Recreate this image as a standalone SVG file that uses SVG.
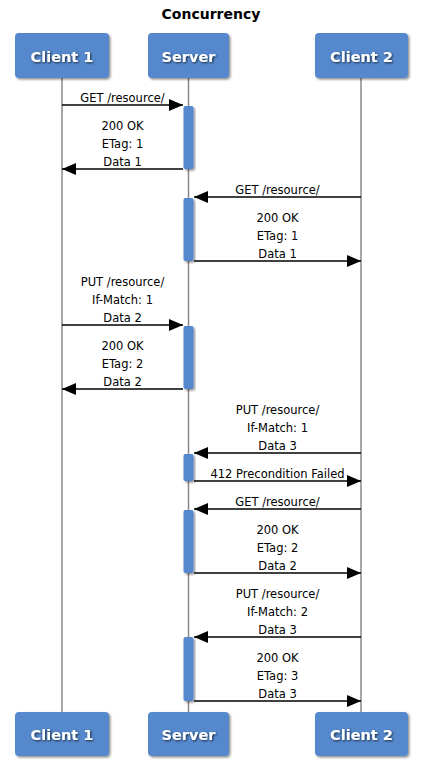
<svg xmlns="http://www.w3.org/2000/svg" width="421" height="761" viewBox="0 0 421 761">
<defs>
<filter id="sh" x="-10%" y="-10%" width="130%" height="130%"><feDropShadow dx="1.5" dy="1.5" stdDeviation="1.2" flood-color="#000" flood-opacity="0.45"/></filter>
<filter id="ts" x="-10%" y="-20%" width="130%" height="150%"><feDropShadow dx="1" dy="1" stdDeviation="1" flood-color="#000" flood-opacity="0.7"/></filter>
<marker id="ah" markerUnits="userSpaceOnUse" markerWidth="14" markerHeight="12" refX="14" refY="6" orient="auto"><path d="M0,0 L14,6 L0,12 z" fill="#000"/></marker>
</defs>
<style>
.box{fill:#5588cc;filter:url(#sh)}
.bt{font-family:"DejaVu Sans",sans-serif;font-weight:bold;font-size:14.5px;fill:#fff;text-anchor:middle;filter:url(#ts)}
.life{stroke:#888;stroke-width:1.5}
.act{fill:#5588cc;filter:url(#sh)}
.msg{stroke:#000;stroke-width:1.3;fill:none;marker-end:url(#ah)}
.t{font-family:"DejaVu Sans",sans-serif;font-size:11.5px;fill:#000;text-anchor:middle}
.title{font-family:"DejaVu Sans",sans-serif;font-weight:bold;font-size:14px;fill:#000;text-anchor:middle}
</style>
<rect width="421" height="761" fill="#fff"/>
<text class="title" x="211" y="19">Concurrency</text>
<g id="lifelines">
<line class="life" x1="62" y1="78" x2="62" y2="712"/>
<line class="life" x1="188.5" y1="78" x2="188.5" y2="712"/>
<line class="life" x1="361" y1="78" x2="361" y2="712"/>
</g>
<g id="client1">
<rect class="box" x="15" y="33" width="94" height="45" rx="4"/>
<text class="bt" x="62" y="62">Client 1</text>
<rect class="box" x="15" y="712" width="94" height="44" rx="4"/>
<text class="bt" x="62" y="740">Client 1</text>
</g>
<g id="server">
<rect class="box" x="148" y="33" width="81" height="45" rx="4"/>
<text class="bt" x="188.5" y="62">Server</text>
<rect class="box" x="148" y="712" width="81" height="44" rx="4"/>
<text class="bt" x="188.5" y="740">Server</text>
</g>
<g id="client2">
<rect class="box" x="315" y="33" width="93" height="45" rx="4"/>
<text class="bt" x="361.5" y="62">Client 2</text>
<rect class="box" x="315" y="712" width="93" height="44" rx="4"/>
<text class="bt" x="361.5" y="740">Client 2</text>
</g>
<g id="activations">
<rect class="act" x="183.5" y="106" width="10" height="63" rx="2"/>
<rect class="act" x="183.5" y="198" width="10" height="63" rx="2"/>
<rect class="act" x="183.5" y="326" width="10" height="63" rx="2"/>
<rect class="act" x="183.5" y="454" width="10" height="27" rx="2"/>
<rect class="act" x="183.5" y="510" width="10" height="63" rx="2"/>
<rect class="act" x="183.5" y="637" width="10" height="64" rx="2"/>
</g>
<g id="connectors">
<line class="msg" x1="62" y1="105" x2="183" y2="105"/>
<line class="msg" x1="183" y1="169" x2="62" y2="169"/>
<line class="msg" x1="361" y1="197" x2="194" y2="197"/>
<line class="msg" x1="194" y1="261" x2="361" y2="261"/>
<line class="msg" x1="62" y1="325" x2="183" y2="325"/>
<line class="msg" x1="183" y1="389" x2="62" y2="389"/>
<line class="msg" x1="361" y1="453" x2="194" y2="453"/>
<line class="msg" x1="194" y1="481" x2="361" y2="481"/>
<line class="msg" x1="361" y1="509" x2="194" y2="509"/>
<line class="msg" x1="194" y1="573" x2="361" y2="573"/>
<line class="msg" x1="361" y1="637" x2="194" y2="637"/>
<line class="msg" x1="194" y1="701" x2="361" y2="701"/>
</g>
<g id="labels">
<text class="t" x="122.5" y="102">GET /resource/</text>
<text class="t" x="122.5" y="130">200 OK</text>
<text class="t" x="122.5" y="148">ETag: 1</text>
<text class="t" x="122.5" y="166">Data 1</text>
<text class="t" x="277.5" y="194">GET /resource/</text>
<text class="t" x="277.5" y="222">200 OK</text>
<text class="t" x="277.5" y="240">ETag: 1</text>
<text class="t" x="277.5" y="258">Data 1</text>
<text class="t" x="122.5" y="286">PUT /resource/</text>
<text class="t" x="122.5" y="304">If-Match: 1</text>
<text class="t" x="122.5" y="322">Data 2</text>
<text class="t" x="122.5" y="350">200 OK</text>
<text class="t" x="122.5" y="368">ETag: 2</text>
<text class="t" x="122.5" y="386">Data 2</text>
<text class="t" x="277.5" y="414">PUT /resource/</text>
<text class="t" x="277.5" y="432">If-Match: 1</text>
<text class="t" x="277.5" y="450">Data 3</text>
<text class="t" x="277.5" y="478">412 Precondition Failed</text>
<text class="t" x="277.5" y="506">GET /resource/</text>
<text class="t" x="277.5" y="534">200 OK</text>
<text class="t" x="277.5" y="552">ETag: 2</text>
<text class="t" x="277.5" y="570">Data 2</text>
<text class="t" x="277.5" y="598">PUT /resource/</text>
<text class="t" x="277.5" y="616">If-Match: 2</text>
<text class="t" x="277.5" y="634">Data 3</text>
<text class="t" x="277.5" y="662">200 OK</text>
<text class="t" x="277.5" y="680">ETag: 3</text>
<text class="t" x="277.5" y="698">Data 3</text>
</g>
</svg>
